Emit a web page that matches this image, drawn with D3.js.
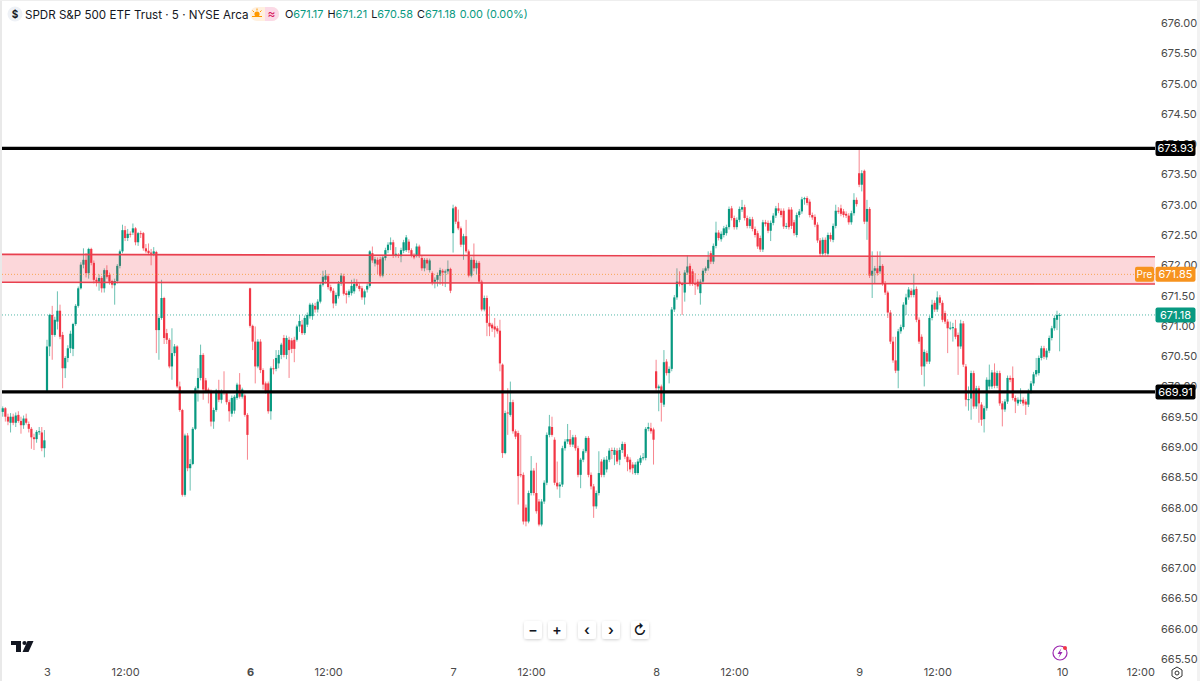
<!DOCTYPE html>
<html>
<head>
<meta charset="utf-8">
<script src="https://d3js.org/d3.v7.min.js"></script>
<style>
  html, body { margin: 0; padding: 0; background: #fff; }
  svg { display: block; }
  text { font-family: Inter, "Noto Sans", sans-serif; }
</style>
</head>
<body>
<div id="chart"></div>
<script>
// 17 bars left over from the previous day, then 78 five minute bars per session
var opens = [
  669.58,669.64,669.50,669.40,669.50,669.40,669.53,669.43,669.36,669.47,669.38,669.30,669.16,669.13,669.25,669.24,668.98,
  // 3
  669.93,670.66,671.18,670.85,671.07,671.25,670.85,670.30,670.47,670.63,
  670.62,671.03,671.33,671.62,672.01,672.09,671.87,672.27,672.04,671.76,
  671.73,671.79,671.62,671.92,671.84,671.74,671.67,671.74,671.99,672.23,
  672.58,672.45,672.52,672.54,672.61,672.38,672.53,672.53,672.28,672.24,
  672.21,672.19,672.22,670.93,671.13,671.46,670.88,670.77,670.33,670.55,
  670.66,670.00,669.61,668.21,669.19,668.65,668.72,669.30,669.97,670.14,
  670.52,670.10,669.95,669.92,669.42,669.61,669.93,669.78,669.92,669.89,
  669.74,669.55,669.60,669.81,670.03,669.83,669.85,669.53,
  // 6
  671.62,671.00,670.74,670.33,670.74,670.27,670.05,670.05,669.59,670.30,
  670.29,670.38,670.52,670.80,670.52,670.77,670.76,670.77,670.77,670.99,
  671.02,670.88,671.02,671.16,671.16,671.33,671.27,671.40,671.68,671.76,
  671.82,671.64,671.58,671.37,671.49,671.70,671.82,671.54,671.51,671.54,
  671.57,671.70,671.66,671.62,671.47,671.60,671.66,672.20,672.03,672.09,
  672.10,671.83,672.12,672.25,672.34,672.38,672.17,672.17,672.15,672.24,
  672.25,672.39,672.25,672.17,672.17,672.31,672.12,671.95,672.09,671.92,
  671.87,671.73,671.76,671.83,671.91,671.88,671.90,671.94,
  // 7
  672.53,672.96,672.72,672.61,672.34,672.48,672.23,671.83,672.09,671.95,
  672.04,671.73,671.27,671.46,671.05,671.02,670.99,670.96,670.92,670.36,
  668.90,669.57,669.53,669.74,669.26,669.23,668.55,668.54,668.00,667.77,
  668.24,668.61,668.24,668.10,667.72,668.10,668.41,669.20,669.33,669.12,
  668.41,668.35,668.38,668.98,669.09,669.13,669.04,669.16,668.98,668.54,
  668.79,668.93,669.15,668.54,668.35,668.02,668.24,668.76,668.54,668.63,
  668.79,668.95,668.87,668.94,668.79,668.95,669.05,668.84,668.79,668.71,
  668.57,668.57,668.74,668.82,668.82,669.30,669.31,669.29,
  // 8
  670.25,669.97,670.00,669.70,670.41,670.22,670.29,671.27,671.47,671.73,
  671.69,671.55,671.88,671.99,671.90,671.70,671.73,671.54,671.73,671.91,
  671.95,672.20,672.06,672.32,672.54,672.43,672.50,672.53,672.63,672.94,
  672.78,672.63,672.75,672.92,672.96,672.78,672.65,672.76,672.60,672.53,
  672.45,672.26,672.71,672.70,672.57,672.70,672.82,672.94,672.90,672.90,
  672.64,672.92,672.92,672.71,672.50,672.83,672.89,673.09,673.11,673.05,
  672.83,672.80,672.67,672.41,672.19,672.42,672.19,672.50,672.42,672.65,
  672.90,672.94,672.89,672.85,672.82,672.71,672.86,673.08,
  // 9
  673.52,673.33,673.56,672.72,672.93,671.83,671.91,671.95,671.90,671.99,
  671.70,671.55,671.22,670.74,670.43,670.26,670.91,670.98,671.35,671.47,
  671.58,671.51,671.61,671.10,670.82,670.33,670.55,670.41,671.13,671.38,
  671.27,671.47,671.38,671.21,671.07,670.96,670.96,670.96,670.85,670.66,
  671.04,670.33,669.78,669.80,670.22,669.67,669.97,669.70,669.46,669.64,
  670.00,670.00,670.23,670.01,670.22,669.72,669.62,669.75,670.14,670.14,
  669.81,669.72,669.75,669.78,669.75,669.70,669.92,670.05,670.20,670.22,
  670.47,670.63,670.48,670.59,670.80,670.96,671.10,671.17
];

var closes = [
  669.64,669.50,669.42,669.50,669.40,669.52,669.43,669.36,669.47,669.40,669.30,669.16,669.13,669.25,669.26,668.98,669.11,
  // 3
  670.66,671.18,670.85,671.10,671.25,670.82,670.30,670.47,670.63,670.87,
  671.03,671.33,671.62,672.01,672.09,671.87,672.27,672.04,671.76,671.73,
  671.79,671.62,671.92,671.81,671.73,671.68,671.74,671.99,672.23,672.58,
  672.45,672.52,672.51,672.61,672.38,672.53,672.52,672.28,672.23,672.20,
  672.19,672.23,670.93,671.13,671.46,670.80,670.77,670.33,670.55,670.66,
  670.00,669.61,668.21,669.19,668.65,668.72,669.30,669.97,670.14,670.52,
  669.95,669.92,669.92,669.42,669.61,669.93,669.78,669.92,669.89,669.74,
  669.59,669.81,669.83,670.03,669.83,669.95,669.53,669.20,
  // 6
  671.00,670.74,670.33,670.74,670.27,670.03,669.92,669.59,670.30,670.29,
  670.47,670.52,670.69,670.52,670.80,670.60,670.62,670.62,670.99,671.08,
  670.88,671.13,671.18,671.35,671.35,671.27,671.40,671.68,671.81,671.83,
  671.64,671.58,671.37,671.51,671.70,671.83,671.53,671.51,671.57,671.66,
  671.69,671.66,671.61,671.47,671.57,671.66,672.23,672.08,672.10,672.01,
  671.83,672.13,672.25,672.34,672.38,672.16,672.19,672.16,672.25,672.38,
  672.46,672.25,672.17,672.13,672.31,672.15,671.95,672.09,672.03,672.08,
  671.71,671.76,671.84,671.92,671.88,671.90,671.94,671.58,
  // 7
  672.94,672.72,672.61,672.34,672.48,672.23,671.83,672.09,671.95,672.04,
  671.73,671.27,671.46,671.05,670.99,670.96,670.94,670.91,670.38,668.90,
  669.56,669.56,669.74,669.26,669.17,668.52,668.54,667.77,667.77,668.24,
  668.61,668.24,667.94,667.72,668.10,668.41,669.20,669.34,669.20,668.41,
  668.35,668.38,668.98,669.09,669.13,669.04,669.16,668.98,668.54,668.79,
  668.93,669.15,668.54,668.35,668.02,668.24,668.57,668.54,668.79,668.79,
  668.94,668.94,668.95,668.76,668.95,669.05,668.84,668.75,668.63,668.65,
  668.71,668.76,668.82,668.83,669.30,669.33,669.26,669.12,
  // 8
  669.97,670.00,669.73,670.40,670.22,670.29,671.27,671.47,671.73,671.69,
  671.68,671.88,671.98,671.70,671.70,671.68,671.65,671.73,671.91,671.95,
  672.09,672.06,672.32,672.54,672.45,672.52,672.61,672.63,672.93,672.78,
  672.63,672.75,672.93,672.96,672.78,672.65,672.76,672.60,672.50,672.31,
  672.26,672.71,672.68,672.57,672.70,672.82,672.94,672.90,672.83,672.64,
  672.65,672.63,672.65,672.53,672.83,672.89,673.09,673.11,673.03,672.83,
  672.79,672.67,672.41,672.19,672.42,672.20,672.50,672.43,672.65,672.90,
  672.89,672.85,672.83,672.82,672.71,672.86,673.08,673.01,
  // 9
  673.33,673.52,672.72,672.93,671.83,671.91,671.95,671.87,671.99,671.70,
  671.55,671.22,670.74,670.43,670.26,670.91,670.98,671.35,671.47,671.60,
  671.51,671.60,671.10,670.74,670.33,670.57,670.41,671.13,671.35,671.27,
  671.47,671.38,671.10,671.07,670.96,670.97,670.98,670.82,670.66,671.04,
  670.36,669.78,669.79,670.22,669.67,669.97,669.72,669.45,669.64,670.11,
  670.11,670.23,670.01,670.22,669.72,669.62,669.75,670.14,670.11,669.81,
  669.75,669.78,669.78,669.72,669.70,669.92,670.05,670.20,670.27,670.47,
  670.63,670.49,670.59,670.80,670.96,671.13,671.18,671.18
];

var highs = [
  669.67,669.66,669.55,669.56,669.55,669.57,669.59,669.50,669.52,669.55,669.42,669.33,669.22,669.28,669.33,669.33,669.28,
  // 3
  670.77,671.20,671.33,671.15,671.57,671.35,670.90,670.50,670.68,670.92,
  671.05,671.36,671.65,672.05,672.28,672.20,672.29,672.29,672.08,671.80,
  671.85,671.82,671.95,672.00,671.88,671.76,671.78,672.02,672.26,672.67,
  672.65,672.60,672.56,672.69,672.63,672.55,672.57,672.55,672.35,672.36,
  672.27,672.30,672.24,671.16,671.76,671.48,670.95,670.80,670.96,670.70,
  670.68,670.08,669.63,669.22,669.23,668.80,669.33,670.00,670.30,670.69,
  670.55,670.14,669.98,669.95,669.65,669.96,670.11,669.95,670.25,669.92,
  669.78,669.85,669.86,670.06,670.22,669.98,669.88,669.56,
  // 6
  671.63,671.02,670.99,670.78,670.78,670.30,670.08,670.08,670.33,670.45,
  670.60,670.60,670.72,670.85,670.84,670.82,670.80,670.82,671.02,671.18,
  671.10,671.17,671.22,671.38,671.38,671.38,671.44,671.72,671.91,671.92,
  671.86,671.68,671.62,671.55,671.74,671.87,671.86,671.58,671.60,671.76,
  671.78,671.77,671.70,671.66,671.60,671.70,672.25,672.31,672.14,672.13,
  672.14,672.17,672.29,672.38,672.46,672.42,672.30,672.20,672.29,672.42,
  672.50,672.43,672.28,672.20,672.36,672.34,672.16,672.12,672.12,672.11,
  671.90,671.80,671.88,671.96,671.94,671.93,672.08,671.96,
  // 7
  673.00,672.98,672.92,672.64,672.52,672.75,672.26,672.13,672.36,672.08,
  672.07,671.76,671.50,671.50,671.32,671.05,671.13,671.00,671.10,670.38,
  669.60,669.97,670.08,669.78,669.29,669.27,669.20,668.58,668.05,668.28,
  668.85,668.65,668.74,668.14,668.14,668.45,669.24,669.53,669.50,669.16,
  668.76,668.42,669.02,669.13,669.38,669.28,669.20,669.20,669.02,668.82,
  668.97,669.18,669.18,668.58,668.39,668.28,668.93,668.80,668.83,668.85,
  668.98,668.99,668.99,668.98,668.99,669.09,669.08,668.88,668.83,668.75,
  668.75,668.80,668.86,668.90,669.33,669.40,669.40,669.32,
  // 8
  670.44,670.03,670.03,670.60,670.45,670.33,671.31,671.51,671.95,671.90,
  671.72,671.92,672.16,672.03,671.94,671.87,671.77,671.77,671.95,671.98,
  672.23,672.24,672.36,672.72,672.58,672.56,672.65,672.67,672.97,672.98,
  672.82,672.79,672.97,673.08,673.00,672.82,672.80,672.80,672.64,672.57,
  672.49,672.75,672.75,672.74,672.74,672.86,672.98,673.03,672.94,672.94,
  672.70,672.96,672.96,672.75,672.87,672.93,673.13,673.13,673.14,673.09,
  672.87,672.84,672.71,672.45,672.46,672.46,672.54,672.54,672.69,673.00,
  672.96,673.00,672.93,672.89,672.86,672.90,673.19,673.12,
  // 9
  673.93,673.57,673.58,673.08,672.96,672.23,671.99,672.23,672.23,672.02,
  671.74,671.58,671.26,670.82,670.82,670.95,671.02,671.39,671.53,671.64,
  671.62,671.86,671.65,671.14,670.86,670.61,670.59,671.17,671.43,671.42,
  671.57,671.51,671.42,671.25,671.11,671.07,671.05,671.10,670.89,671.10,
  671.08,670.37,670.00,670.26,670.26,670.01,670.01,669.74,669.68,670.15,
  670.36,670.27,670.38,670.26,670.26,669.76,669.79,670.18,670.18,670.33,
  669.85,669.82,669.97,669.82,669.79,669.96,670.09,670.24,670.47,670.51,
  670.67,670.67,670.63,670.84,671.00,671.17,671.25,671.21
];

var lows = [
  669.50,669.42,669.36,669.24,669.36,669.33,669.40,669.22,669.30,669.37,669.24,668.97,668.95,669.07,669.20,668.93,668.83,
  // 3
  669.92,670.50,670.44,670.82,670.94,670.78,669.97,670.14,670.40,670.55,
  670.50,671.00,671.30,671.60,671.95,671.80,671.78,672.00,671.70,671.65,
  671.58,671.55,671.55,671.78,671.68,671.62,671.35,671.70,671.95,672.20,
  672.40,672.40,672.46,672.50,672.33,672.32,672.45,672.24,672.20,672.17,
  672.00,672.15,670.55,670.44,671.10,670.70,670.70,670.30,670.11,670.50,
  669.97,669.58,668.18,668.18,668.60,668.28,668.70,669.28,669.75,670.10,
  669.78,669.90,669.72,669.34,669.30,669.58,669.74,669.72,669.86,669.70,
  669.42,669.50,669.55,669.78,669.80,669.80,669.50,668.79,
  // 6
  670.97,670.60,670.05,670.30,670.22,669.95,669.88,669.55,669.45,670.20,
  670.25,670.30,670.45,670.48,670.45,670.14,670.55,670.40,670.74,670.90,
  670.85,670.85,670.98,671.12,671.10,671.22,671.22,671.37,671.65,671.70,
  671.60,671.55,671.29,671.33,671.45,671.66,671.50,671.37,671.47,671.50,
  671.53,671.63,671.57,671.43,671.35,671.55,671.63,672.04,671.98,671.85,
  671.80,671.80,672.08,672.20,672.25,672.12,672.13,672.12,672.05,672.20,
  672.22,672.20,672.13,672.10,672.13,672.12,671.91,671.90,671.92,671.88,
  671.67,671.62,671.65,671.68,671.66,671.64,671.85,671.54,
  // 7
  672.21,672.68,672.58,672.30,672.09,672.20,671.80,671.80,671.90,671.85,
  671.70,671.24,671.24,670.83,670.83,670.90,670.81,670.87,670.25,668.82,
  668.88,669.20,669.50,669.22,669.13,668.05,668.50,667.72,667.69,667.74,
  668.20,668.20,667.90,667.69,667.69,668.06,668.37,669.16,669.17,668.37,
  668.30,668.16,668.34,668.94,669.05,669.00,669.00,668.94,668.50,668.32,
  668.75,668.90,668.50,668.30,667.83,667.98,668.20,668.50,668.50,668.58,
  668.75,668.80,668.70,668.72,668.70,668.90,668.80,668.60,668.58,668.55,
  668.54,668.54,668.70,668.78,668.78,669.26,669.22,668.71,
  // 8
  669.93,669.59,669.42,669.66,670.18,670.05,670.25,671.23,671.43,671.65,
  671.18,671.40,671.84,671.66,671.66,671.51,671.60,671.35,671.69,671.87,
  671.91,672.02,672.02,672.28,672.41,672.39,672.46,672.49,672.59,672.74,
  672.59,672.59,672.71,672.88,672.74,672.61,672.61,672.56,672.46,672.27,
  672.22,672.22,672.64,672.53,672.40,672.66,672.78,672.86,672.79,672.60,
  672.60,672.59,672.60,672.49,672.46,672.79,672.85,673.00,672.99,672.79,
  672.75,672.63,672.37,672.15,672.15,672.16,672.15,672.39,672.38,672.61,
  672.85,672.81,672.79,672.78,672.67,672.67,672.82,672.97,
  // 9
  673.29,673.22,672.68,672.42,671.79,671.46,671.70,671.83,671.86,671.66,
  671.51,671.13,670.70,670.39,670.22,669.97,670.87,670.94,671.18,671.43,
  671.47,671.47,671.06,670.70,670.19,670.00,670.37,670.37,671.09,671.23,
  671.23,671.34,671.06,671.03,670.55,670.93,670.74,670.78,670.19,670.62,
  670.32,669.67,669.60,669.45,669.63,669.63,669.40,669.35,669.24,669.60,
  669.95,669.96,669.97,669.97,669.68,669.34,669.58,669.71,670.07,669.77,
  669.56,669.68,669.71,669.68,669.53,669.66,669.88,670.01,670.16,670.18,
  670.43,670.45,670.44,670.55,670.76,670.92,670.93,670.58
];

// axis ticks
var priceTicks = [676,675.5,675,674.5,674,673.5,673,672.5,672,671.5,671,670.5,670,669.5,669,668.5,668,667.5,667,666.5,666,665.5];
var timeTickBars = [17,47,95,125,173,203,251,281,329,359,407,437];
var timeTickLabels = ["3","12:00","6","12:00","7","12:00","8","12:00","9","12:00","10","12:00"];

// drawn levels
var blackLevels = [673.93,669.91];
var zoneTop = [672.18,672.14];
var zoneBottom = [671.72,671.69];
var lastPrice = 671.18;
var prePrice = 671.85;

// legend
var legendTitle = "SPDR S&P 500 ETF Trust · 5 · NYSE Arca";
var legendKeys = ["O","H","L","C"];
var legendValues = ["671.17","671.21","670.58","671.18"];
var legendChange = "0.00 (0.00%)";

var green = "#089981", red = "#f23645", orange = "#f7931e";
var width = 1200, height = 681;
var plotLeft = 2, plotRight = 1155;

var bars = closes.map(function(c, i) {
  return {i: i, open: opens[i], high: highs[i], low: lows[i], close: c};
});

var svg = d3.select("#chart").append("svg").attr("width", width).attr("height", height);

var x = d3.scaleLinear().domain([17, 406]).range([47, 1059.6]);
var y = d3.scaleLinear().domain([676, 665.5]).range([23, 659]);

// page edges
svg.append("rect").attr("width", width).attr("height", height).attr("fill", "#fff");
svg.append("rect").attr("width", 2).attr("height", height).attr("fill", "#e9e9e9");
svg.append("rect").attr("width", width).attr("height", 1).attr("fill", "#eeeeee");
svg.append("rect").attr("x", 1197).attr("width", 3).attr("height", height).attr("fill", "#f2f2f2");

// price axis
var yAxis = d3.axisRight(y).tickValues(priceTicks).tickFormat(d3.format(".2f")).tickSize(0).tickPadding(0);
var yG = svg.append("g").attr("transform", "translate(1161,0)").call(yAxis);
yG.select(".domain").remove();
yG.selectAll("text").style("font-family", "Inter, sans-serif").style("font-size", "11px").attr("fill", "#4a4a4a");

// time axis
var xAxis = d3.axisBottom(x).tickValues(timeTickBars).tickFormat(function(d, i) { return timeTickLabels[i]; }).tickSize(0).tickPadding(0);
var xG = svg.append("g").attr("transform", "translate(0,668)").call(xAxis);
xG.select(".domain").remove();
xG.selectAll("text").style("font-family", "Inter, sans-serif").style("font-size", "11px").attr("fill", "#4a4a4a")
  .style("font-weight", function(d, i) { return timeTickLabels[i] == "6" ? "700" : "400"; });

// candles
var candles = svg.append("g");
candles.selectAll("line").data(bars).join("line")
  .attr("x1", function(d) { return x(d.i); })
  .attr("x2", function(d) { return x(d.i); })
  .attr("y1", function(d) { return y(d.high); })
  .attr("y2", function(d) { return y(d.low); })
  .attr("stroke", function(d) { return d.close >= d.open ? green : red; })
  .attr("stroke-width", 1)
  .attr("stroke-opacity", 0.6);
candles.selectAll("rect").data(bars).join("rect")
  .attr("x", function(d) { return x(d.i) - 1.1; })
  .attr("width", 2.2)
  .attr("y", function(d) { return y(Math.max(d.open, d.close)); })
  .attr("height", function(d) { return Math.max(1, Math.abs(y(d.open) - y(d.close))); })
  .attr("fill", function(d) { return d.close >= d.open ? green : red; });

// red zone
var zoneLine = d3.line().x(function(d) { return d[0]; }).y(function(d) { return y(d[1]); });
var zonePts = [[plotLeft, zoneTop[0]], [plotRight, zoneTop[1]], [plotRight, zoneBottom[1]], [plotLeft, zoneBottom[0]]];
svg.append("path").attr("d", zoneLine(zonePts) + "Z").attr("fill", red).attr("fill-opacity", 0.2);
[zoneTop, zoneBottom].forEach(function(z) {
  svg.append("path").attr("d", zoneLine([[plotLeft, z[0]], [plotRight, z[1]]]))
    .attr("stroke", "#e8404f").attr("stroke-width", 1.6).attr("fill", "none");
});

// dotted price lines
[[lastPrice, green, 0.7], [prePrice, orange, 0.7]].forEach(function(l) {
  svg.append("line").attr("x1", plotLeft).attr("x2", plotRight)
    .attr("y1", y(l[0])).attr("y2", y(l[0]))
    .attr("stroke", l[1]).attr("stroke-opacity", l[2]).attr("stroke-width", 1).attr("stroke-dasharray", "1 2");
});

// black levels
svg.selectAll(".level").data(blackLevels).join("line").attr("class", "level")
  .attr("x1", plotLeft).attr("x2", plotRight)
  .attr("y1", function(d) { return y(d); }).attr("y2", function(d) { return y(d); })
  .attr("stroke", "#000").attr("stroke-width", 3.4);

// price tags on the axis
function priceTag(price, color, txt) {
  var g = svg.append("g").attr("transform", "translate(1155.5," + y(price) + ")");
  g.append("rect").attr("y", -7.5).attr("width", 40).attr("height", 15).attr("rx", 2).attr("fill", color);
  g.append("text").attr("x", 20).attr("y", 4).attr("text-anchor", "middle")
    .attr("font-size", 11).attr("fill", "#fff").text(txt);
}
priceTag(blackLevels[0], "#000", "673.93");
priceTag(blackLevels[1], "#000", "669.91");
priceTag(lastPrice, green, "671.18");
priceTag(prePrice, orange, "671.85");
var pre = svg.append("g").attr("transform", "translate(1135," + y(prePrice) + ")");
pre.append("rect").attr("y", -7.5).attr("width", 19).attr("height", 15).attr("rx", 2).attr("fill", orange);
pre.append("text").attr("x", 9.5).attr("y", 4).attr("text-anchor", "middle").attr("font-size", 10).attr("fill", "#fff").text("Pre");

// legend row
svg.append("circle").attr("cx", 15).attr("cy", 14).attr("r", 7.5).attr("fill", "#eef1f6");
svg.append("text").attr("x", 15).attr("y", 18).attr("text-anchor", "middle").attr("font-size", 10).attr("font-weight", 700).attr("fill", "#131722").text("$");
svg.append("text").attr("x", 25).attr("y", 18.5).attr("font-size", 11.6).attr("fill", "#131722").text(legendTitle);

svg.append("path").attr("d", "M257,7 h15 a7,7 0 0 1 0,14 h-15 a7,7 0 0 1 0,-14Z").attr("fill", "#fff0df");
svg.append("path").attr("d", "M265,7 h7 a7,7 0 0 1 0,14 h-7Z").attr("fill", "#fbd9e6");
svg.append("circle").attr("cx", 257).attr("cy", 14).attr("r", 2.6).attr("fill", "#ff9800");
svg.append("path").attr("d", "M252,16.5 h10 M257,8.5 v2 M252.5,10.5 l1.5,1.5 M261.5,10.5 l-1.5,1.5").attr("stroke", "#ff9800").attr("stroke-width", 1).attr("fill", "none");
svg.append("text").attr("x", 271.5).attr("y", 18).attr("text-anchor", "middle").attr("font-size", 12).attr("fill", "#d81b60").text("≈");

var legend = svg.append("text").attr("x", 285).attr("y", 18).attr("font-size", 10.9);
legendKeys.forEach(function(k, i) {
  legend.append("tspan").attr("dx", i == 0 ? 0 : 4).attr("fill", "#131722").text(k);
  legend.append("tspan").attr("fill", green).text(legendValues[i]);
});
legend.append("tspan").attr("dx", 4).attr("fill", green).text(legendChange);

// zoom buttons
var buttons = [[533, "−"], [557, "+"], [587, "‹"], [611, "›"], [640, "↻"]];
var shadow = svg.append("defs").append("filter").attr("id", "soft").attr("x", "-30%").attr("y", "-30%").attr("width", "160%").attr("height", "160%");
shadow.append("feDropShadow").attr("dx", 0).attr("dy", 1).attr("stdDeviation", 1.5).attr("flood-color", "#000").attr("flood-opacity", 0.18);
buttons.forEach(function(b) {
  svg.append("rect").attr("x", b[0] - 9).attr("y", 621).attr("width", 18).attr("height", 18).attr("rx", 3)
    .attr("fill", "#fff").attr("filter", "url(#soft)");
  svg.append("text").attr("x", b[0]).attr("y", 635).attr("text-anchor", "middle")
    .attr("font-size", 14).attr("font-weight", 600).attr("fill", "#131722").text(b[1]);
});

// TradingView mark
svg.append("path").attr("d", "M11,641 h10 v11 h-5 v-7 h-5Z M22.5,652 l5,-11 h6 l-5,11Z").attr("fill", "#131722");
svg.append("circle").attr("cx", 24.5).attr("cy", 643).attr("r", 2.1).attr("fill", "#131722");

// lightning badge
svg.append("circle").attr("cx", 1060).attr("cy", 653).attr("r", 7).attr("fill", "#fff").attr("stroke", "#9c27b0").attr("stroke-width", 1.2);
svg.append("path").attr("d", "M1061.5,648 l-4,6 h2.5 l-1.5,4 l4,-6 h-2.5Z").attr("fill", "#9c27b0");
svg.append("circle").attr("cx", 1065).attr("cy", 648).attr("r", 2).attr("fill", "#f23645");

// settings gear
svg.append("path").attr("d", "M1177,667 l5,3 v6 l-5,3 l-5,-3 v-6Z").attr("fill", "none").attr("stroke", "#333").attr("stroke-width", 1);
svg.append("circle").attr("cx", 1177).attr("cy", 673).attr("r", 2).attr("fill", "none").attr("stroke", "#333").attr("stroke-width", 1);
</script>
</body>
</html>
